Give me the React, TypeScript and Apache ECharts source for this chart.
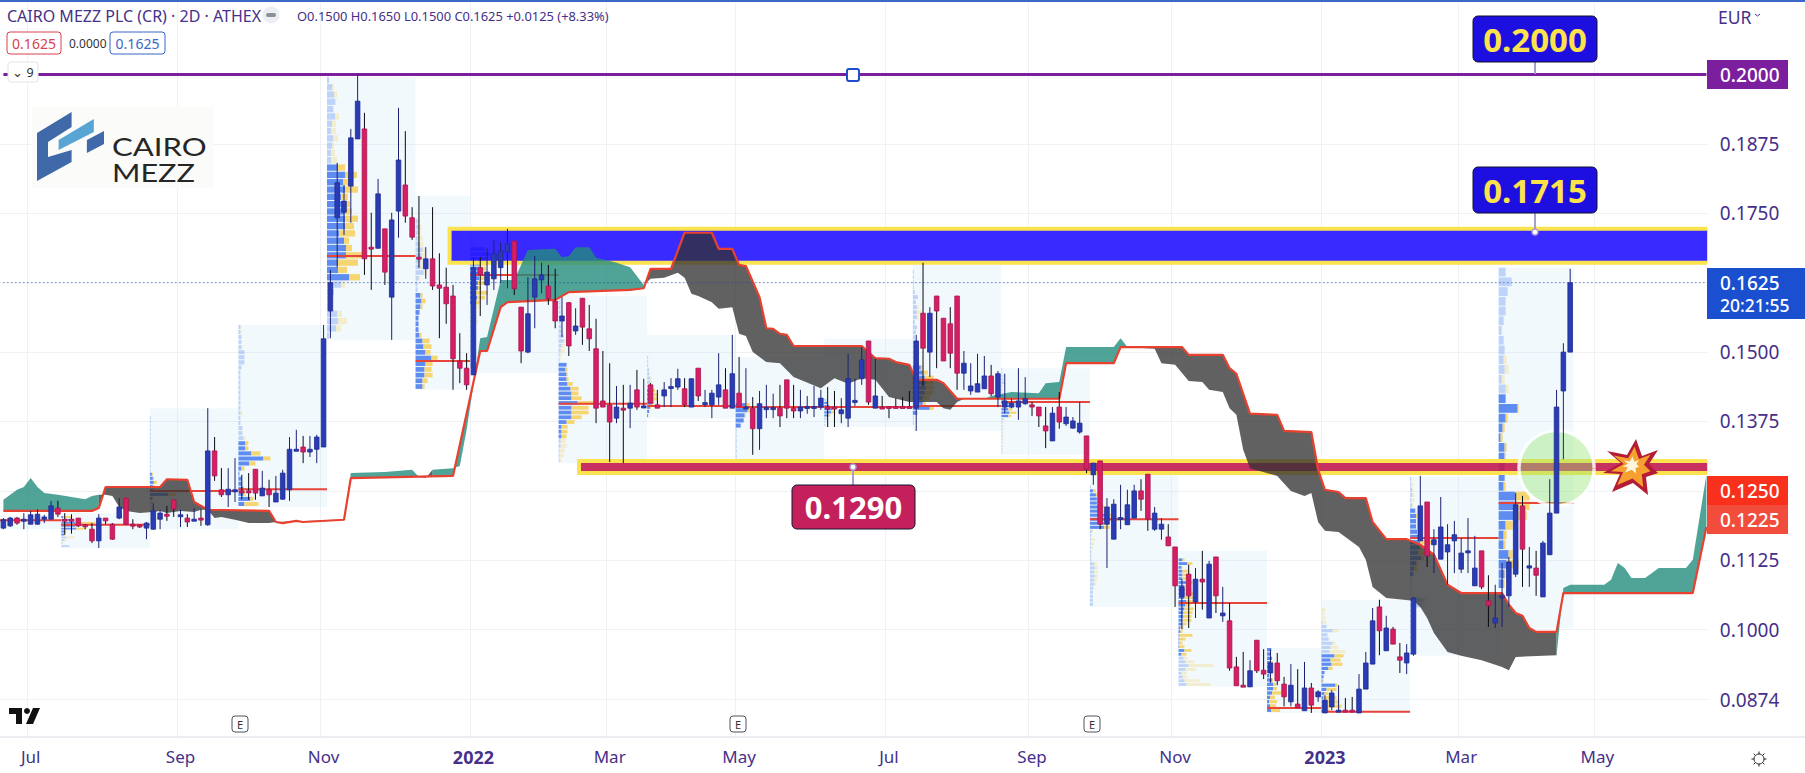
import React, { useEffect, useRef } from "react";
import * as echarts from "echarts";

// ---- price data: all prices in ten-thousandths of a euro ----
// [open, high, low, close] of every 2D bar
const candleTicks: number[][] = [
[1183,1201,1181,1198],[1187,1203,1185,1201],[1201,1203,1189,1192],[1198,1210,1181,1199],[1190,1214,1190,1207],[1190,1217,1189,1208],[1199,1207,1192,1203],[1199,1232,1199,1223],[1219,1232,1203,1208],[1199,1210,1171,1197],
[1199,1208,1173,1197],[1201,1201,1185,1187],[1189,1190,1181,1187],[1181,1192,1156,1160],[1160,1208,1147,1201],[1201,1201,1190,1196],[1190,1192,1162,1163],[1201,1237,1199,1221],[1237,1237,1189,1190],[1190,1199,1181,1189],
[1189,1189,1183,1185],[1183,1194,1163,1192],[1181,1228,1180,1214],[1199,1216,1181,1210],[1208,1223,1196,1205],[1234,1234,1203,1217],[1206,1216,1185,1207],[1201,1208,1185,1194],[1198,1219,1198,1199],[1201,1217,1187,1198],
[1189,1399,1187,1322],[1322,1347,1268,1277],[1252,1291,1239,1243],[1243,1291,1221,1253],[1251,1309,1230,1252],[1250,1279,1235,1249],[1250,1282,1234,1248],[1289,1289,1234,1246],[1241,1286,1241,1255],[1252,1270,1221,1243],
[1230,1277,1230,1246],[1235,1288,1234,1282],[1252,1347,1232,1325],[1324,1360,1324,1325],[1329,1349,1300,1320],[1320,1349,1311,1325],[1325,1351,1300,1347],[1329,1549,1329,1524],[1574,1648,1525,1625],[1742,1841,1653,1805],
[1752,1801,1711,1772],[1799,1902,1733,1886],[1884,2000,1884,1952],[1902,1931,1639,1668],[1689,1751,1612,1686],[1687,1812,1687,1785],[1722,1722,1621,1644],[1599,1751,1522,1738],[1754,1940,1706,1846],[1801,1898,1733,1745],
[1742,1761,1702,1707],[1671,1781,1652,1668],[1650,1689,1632,1668],[1668,1761,1612,1619],[1621,1678,1525,1615],[1617,1652,1551,1587],[1601,1621,1432,1488],[1484,1534,1444,1471],[1471,1498,1432,1441],[1459,1671,1459,1652],
[1652,1671,1565,1639],[1621,1687,1585,1644],[1632,1702,1612,1677],[1652,1698,1625,1682],[1680,1722,1615,1695],[1700,1700,1603,1614],[1581,1581,1480,1502],[1500,1635,1498,1569],[1599,1673,1543,1632],[1630,1661,1606,1639],
[1619,1657,1585,1596],[1592,1650,1543,1556],[1556,1599,1527,1565],[1589,1590,1493,1511],[1538,1579,1531,1547],[1597,1597,1513,1545],[1542,1585,1502,1524],[1506,1560,1372,1399],[1412,1502,1401,1401],[1405,1480,1302,1374],
[1381,1439,1372,1401],[1399,1441,1300,1396],[1399,1441,1363,1408],[1432,1468,1396,1401],[1402,1452,1399,1403],[1441,1444,1408,1408],[1405,1432,1399,1399],[1421,1446,1401,1432],[1437,1453,1401,1438],[1437,1470,1432,1452],
[1434,1453,1401,1405],[1401,1452,1401,1452],[1471,1471,1412,1421],[1408,1432,1401,1409],[1405,1432,1381,1426],[1419,1498,1405,1441],[1432,1471,1399,1399],[1399,1531,1399,1461],[1426,1491,1401,1401],[1400,1471,1399,1401],
[1399,1419,1315,1362],[1362,1430,1324,1407],[1399,1441,1381,1400],[1399,1425,1381,1400],[1399,1441,1365,1385],[1450,1450,1381,1399],[1399,1441,1381,1394],[1394,1432,1381,1401],[1401,1421,1389,1402],[1401,1439,1383,1402],
[1401,1432,1396,1417],[1401,1437,1365,1400],[1401,1430,1365,1400],[1389,1417,1372,1396],[1381,1497,1365,1452],[1412,1452,1403,1413],[1452,1509,1441,1486],[1520,1520,1405,1410],[1399,1488,1399,1421],[1401,1421,1399,1400],
[1402,1402,1381,1401],[1402,1417,1399,1401],[1402,1419,1399,1401],[1402,1430,1399,1401],[1399,1531,1358,1520],[1570,1661,1439,1507],[1500,1581,1455,1570],[1601,1601,1471,1574],[1561,1561,1484,1484],[1551,1581,1471,1498],
[1601,1601,1432,1462],[1462,1502,1432,1480],[1430,1480,1423,1439],[1428,1497,1428,1443],[1434,1493,1434,1457],[1457,1477,1421,1425],[1419,1466,1401,1461],[1401,1461,1390,1412],[1401,1416,1399,1408],[1401,1471,1378,1412],
[1407,1455,1405,1416],[1405,1410,1385,1401],[1401,1401,1365,1385],[1367,1401,1327,1358],[1340,1401,1340,1390],[1401,1428,1362,1374],[1371,1401,1367,1383],[1363,1383,1362,1376],[1356,1410,1353,1372],[1349,1349,1282,1289],
[1279,1300,1261,1300],[1304,1304,1181,1190],[1190,1237,1111,1221],[1163,1235,1163,1226],[1201,1261,1181,1202],[1189,1252,1189,1225],[1201,1261,1201,1250],[1250,1271,1214,1235],[1280,1280,1178,1199],[1181,1221,1178,1210],
[1181,1201,1162,1190],[1167,1190,1151,1151],[1149,1149,1041,1079],[1059,1091,1001,1077],[1100,1117,1003,1061],[1050,1111,1021,1091],[1091,1142,1036,1086],[1021,1124,1021,1118],[1131,1131,1030,1061],[1025,1077,1014,1030],
[1016,1048,926,931],[933,951,899,899],[900,960,897,897],[897,945,897,926],[981,981,922,926],[927,965,911,920],[922,964,904,940],[940,958,900,908],[902,915,862,879],[870,938,862,900],
[866,929,859,859],[854,942,854,895],[895,904,850,864],[879,891,870,888],[850,882,850,873],[861,891,855,886],[852,900,852,855],[855,877,854,854],[855,879,852,852],[850,920,850,893],
[893,960,893,940],[938,1039,938,1016],[1041,1054,954,998],[962,1025,962,1003],[1001,1005,974,974],[951,976,922,945],[940,974,920,958],[956,1059,953,1057],[1160,1277,1160,1223],[1230,1230,1113,1133],
[1153,1181,1102,1162],[1127,1239,1127,1185],[1140,1190,1081,1153],[1160,1196,1102,1171],[1109,1165,1102,1138],[1141,1201,1102,1142],[1079,1169,1079,1111],[1142,1142,1073,1077],[1052,1098,1005,1043],[1012,1081,1003,1021],
[1057,1120,1005,1061],[1061,1131,1041,1122],[1100,1246,1095,1225],[1223,1241,1077,1145],[1111,1149,1077,1115],[1111,1142,1061,1098],[1059,1160,1059,1156],[1135,1271,1135,1210],[1210,1432,1210,1401],[1430,1516,1307,1500],
[1500,1650,1500,1625]];

// Ichimoku leading spans as [bar, price] vertices
const senkouRed: number[][] = [[0,1214],[13,1214],[14,1219],[15,1257],[23,1257],[24,1271],[27,1270],[28,1230],[30,1216],[39,1214],[40,1194],[41,1192],[43,1196],[44,1194],[50,1198],[51,1273],[66,1277],[70,1502],[71,1502],[73,1581],[74,1590],[81,1594],[83,1608],[92,1612],[94,1615],[95,1650],[98,1650],[100,1715],[104,1715],[105,1686],[107,1686],[108,1657],[109,1655],[111,1599],[112,1543],[113,1542],[114,1533],[115,1531],[116,1511],[126,1511],[128,1489],[130,1488],[131,1482],[133,1477],[134,1450],[137,1450],[138,1444],[140,1416],[155,1416],[156,1480],[163,1480],[164,1509],[173,1509],[174,1495],[179,1495],[180,1471],[181,1461],[183,1389],[187,1387],[188,1358],[192,1356],[193,1288],[194,1252],[196,1248],[197,1237],[200,1237],[201,1194],[203,1163],[206,1163],[208,1153],[210,1135],[212,1081],[214,1066],[220,1066],[221,1045],[222,1030],[223,1025],[224,1003],[225,996],[228,996],[229,1066],[248,1066],[250,1185]];
const senkouOther: number[][] = [[0,1234],[2,1252],[3,1257],[4,1273],[5,1257],[6,1246],[8,1243],[10,1239],[12,1235],[13,1241],[14,1243],[15,1243],[16,1241],[17,1221],[18,1214],[20,1210],[22,1212],[23,1214],[24,1210],[26,1214],[28,1212],[29,1216],[30,1216],[31,1201],[32,1203],[34,1198],[36,1192],[39,1192],[40,1194],[50,1198],[51,1282],[56,1284],[60,1288],[61,1275],[62,1273],[63,1288],[66,1291],[67,1295],[68,1360],[69,1441],[70,1525],[71,1527],[73,1630],[75,1630],[77,1684],[81,1686],[82,1671],[83,1673],[84,1689],[86,1689],[87,1670],[90,1661],[92,1653],[94,1621],[95,1632],[97,1634],[99,1643],[100,1634],[101,1605],[102,1601],[104,1590],[105,1578],[107,1581],[108,1533],[109,1529],[110,1500],[112,1482],[114,1480],[116,1455],[120,1435],[122,1453],[124,1443],[126,1453],[128,1450],[130,1419],[133,1410],[137,1410],[138,1399],[139,1396],[140,1410],[141,1416],[144,1416],[145,1421],[148,1428],[152,1426],[153,1444],[155,1446],[156,1509],[163,1509],[164,1525],[165,1509],[169,1506],[170,1480],[172,1477],[174,1448],[176,1446],[177,1432],[179,1428],[180,1399],[181,1387],[182,1324],[183,1291],[187,1277],[189,1250],[191,1241],[192,1246],[193,1194],[194,1178],[196,1176],[198,1158],[199,1149],[200,1126],[201,1077],[203,1057],[207,1052],[208,1041],[209,1021],[210,994],[212,960],[214,953],[217,945],[220,933],[221,927],[222,951],[228,954],[229,1075],[230,1081],[235,1081],[236,1090],[237,1120],[238,1111],[239,1093],[241,1093],[243,1111],[247,1111],[248,1126],[250,1279]];
// runs of the cloud: [first bar, last bar, 0 = grey, 1 = teal]
const cloudRuns: number[][] = [[0,14,1],[14,50,0],[50,61,1],[61,63,0],[63,94,1],[94,144,0],[144,165,1],[165,228,0],[228,250,1]];

// Fixed-range volume profiles: [first bar, bar after the last, top, bottom, POC, value-area first row, value-area last row]
const profileRanges: number[][] = [
[0,9,1205,1181,1197,0,0],[9,22,1210,1147,1189,1,7],[22,35,1399,1181,1250,16,22],[35,48,1549,1221,1253,23,35],[48,61,1996,1522,1673,12,27],[61,69,1781,1432,1484,17,33],[69,82,1715,1462,1639,3,14],[82,95,1601,1300,1407,14,29],[95,108,1531,1381,1403,13,19],[108,121,1491,1307,1401,9,13],
[121,134,1524,1365,1401,20,24],[134,147,1657,1358,1403,20,29],[147,160,1471,1315,1410,9,14],[160,173,1304,1041,1199,7,16],[173,186,1142,897,1048,2,27],[186,194,967,850,859,0,14],[194,207,1054,850,852,13,26],[207,220,1275,953,1165,6,18],[220,231,1652,1003,1228,13,32]];
const profileUp: number[][] = [
[],
[0,2,13,14,14,15,3,3,5,3,1,8],
[0,0,1,1,1,1,1,1,1,1,1,1,1,1,1,1,2,3,4,3,3,18,2,2,2,2,1,1,1,0],
[2,2,3,3,3,6,6,6,3,2,2,2,2,2,2,2,2,2,2,2,4,4,5,7,7,13,25,11,3,1,3,3,5,5,12,6],
[2,5,7,8,6,8,5,4,6,5,4,4,11,18,16,18,14,15,18,18,18,12,17,19,19,11,11,22,14,7,5,5,10,11,9,2],
[0,0,0,0,2,3,2,2,4,7,6,5,5,8,3,2,2,5,6,5,4,3,3,3,4,7,8,10,16,10,9,9,7,7],
[1,3,5,15,20,17,10,10,10,9,8,8,6,7,6,5,3,3,3,2,2,2,1,1,1,1,1,1,0],
[2,2,2,2,2,2,3,3,5,5,3,2,1,1,8,7,8,8,9,12,13,13,19,13,13,13,8,3,3,3,2,2,1,1,1],
[0,0,0,0,0,1,1,1,2,2,3,3,4,5,6,6,5,3,2,1],
[0,0,0,0,0,0,0,0,0,10,12,9,8,5,1,1,1,1,1,1],
[0,0,0,0,0,0,0,0,0,0,0,0,0,0,0,0,0,0,0,2,3,5,8,7,4,2,1,1],
[0,1,1,1,1,2,5,3,4,4,4,2,4,3,2,2,2,2,3,4,8,10,12,13,13,12,10,10,17,4,1,1,0],
[1,1,2,2,3,1,1,1,2,4,8,9,7,8,7,2,1,1,1,1,1,1,1,1,1,1],
[0,0,0,0,0,0,1,3,6,7,7,10,12,18,20,14,14,2,1,1,1,1,1,1,1,4,5,4,5,4,4,3,3,3,3,3],
[0,0,4,9,3,4,4,4,8,6,5,6,6,8,7,6,5,5,4,4,2,2,1,1,1,1,6,3,5,7,10,7,3,4,6,8],
[4,4,5,4,5,5,2,5,6,6,5,3,2,3,4],
[0,0,0,0,0,1,5,11,6,7,11,9,8,13,9,10,7,3,2,1,14,5,3,2,3,3,3],
[1,1,2,2,1,2,5,6,6,6,7,8,10,10,8,11,6,4,3,1,1,1,1,14,12,1,1,1,1,1,1,1,1,1],
[7,13,9,7,7,5,3,5,6,5,6,3,7,7,19,7,4,2,6,6,6,6,5,17,17,18,7,5,5,10,8,6,5,0,0,0,0]];
const profileDown: number[][] = [
[],
[0,8,1,20,3,10,2,1,8,2,1,0],
[0,0,0,0,0,0,0,0,0,0,0,0,0,0,0,0,1,1,3,2,2,8,2,1,1,1,1,10,2,0],
[1,1,0,0,1,0,0,0,0,0,0,0,0,0,0,0,0,2,0,0,0,0,2,3,3,9,7,6,3,0,0,0,0,2,3,14],
[0,2,3,1,1,4,4,5,5,2,4,6,7,12,6,13,7,8,7,13,9,16,5,6,17,20,9,11,4,0,0,0,5,9,5,0],
[0,0,0,0,2,3,3,5,4,3,4,3,3,4,2,0,0,2,4,2,0,0,0,0,2,7,8,5,6,7,7,8,5,2],
[0,0,0,0,3,5,7,6,7,7,8,3,12,8,4,4,4,4,5,3,2,1,0,0,0,0,0,0,0],
[0,0,0,0,0,0,0,0,0,3,3,4,2,1,0,2,1,2,5,8,7,10,16,17,17,10,8,6,6,5,5,6,5,4,2],
[0,0,0,0,0,0,0,0,0,1,1,2,2,3,4,4,2,1,0,0],
[0,0,0,0,0,0,0,0,0,4,4,1,0,0,0,0,0,0,0,0],
[0,0,0,0,0,0,0,0,0,0,0,0,0,0,0,0,0,0,0,0,1,1,3,4,2,0,0,0],
[0,0,0,0,0,0,0,0,2,5,2,0,0,0,0,0,0,0,0,1,2,5,9,8,8,8,7,3,4,1,0,0,0],
[0,0,0,0,0,0,0,0,1,1,2,2,4,7,3,1,1,1,1,1,1,1,1,0,0,0],
[0,0,0,0,0,0,0,3,6,1,3,5,5,4,10,5,6,1,1,4,3,2,1,1,1,3,3,4,3,3,2,1,0,0,0,0],
[0,0,2,5,1,6,7,5,6,6,8,9,11,10,5,9,9,8,9,4,3,2,13,6,3,5,7,5,4,9,25,10,5,5,15,24],
[1,0,0,2,1,0,1,1,3,4,9,5,8,6,9],
[0,0,4,3,4,4,0,6,0,1,3,8,16,9,10,11,4,0,0,1,2,10,4,13,15,17,5],
[1,2,1,2,3,1,1,1,0,0,0,1,14,8,10,3,2,3,1,1,0,0,0,3,2,0,0,0,0,0,0,0,0,0],
[0,0,0,0,0,0,0,0,0,3,4,3,3,0,1,2,2,2,2,1,0,0,2,14,14,10,7,3,2,4,12,1,1,0,0,0,0]];

// Supply / demand zones: [first bar, last bar, top, bottom]
const zoneBlue = [66, 250, 1722, 1661];
const zoneRed = [85, 250, 1304, 1282];
const resistance = 0.2;
const lastPrice = 0.1625;
const breakoutSpot = [228, 0.1291];

const priceTicks = [0.2, 0.1875, 0.175, 0.1625, 0.15, 0.1375, 0.125, 0.1125, 0.1, 0.0874];
const timeTicks: [number, string][] = [[4,"Jul"],[26,"Sep"],[47,"Nov"],[69,"2022"],[89,"Mar"],[108,"May"],[130,"Jul"],[151,"Sep"],[172,"Nov"],[194,"2023"],[214,"Mar"],[234,"May"]];
const earningsMarks = [240, 738, 1092];
const legendLine = "O0.1500 H0.1650 L0.1500 C0.1625 +0.0125 (+8.33%)";

const BAR_COUNT = 251;
const INK = "#46308a";
const FONT = "'Noto Sans', sans-serif";
const tick = (v: number) => v / 10000;

const labelByBar = new Map(timeTicks);
const categories = Array.from({ length: BAR_COUNT }, (_, i) => labelByBar.get(i) ?? "");
const isTimeTick = (i: number) => labelByBar.has(i);

function valueAt(arr: number[][], x: number) {
  for (let k = 0; k < arr.length - 1; k++) {
    const [x0, y0] = arr[k];
    const [x1, y1] = arr[k + 1];
    if (x >= x0 && x <= x1) return y0 + ((y1 - y0) * (x - x0)) / (x1 - x0 || 1);
  }
  return arr[arr.length - 1][1];
}
function edge(arr: number[][], a: number, b: number) {
  return [[a, valueAt(arr, a)], ...arr.filter((p) => p[0] > a && p[0] < b), [b, valueAt(arr, b)]];
}

const starPoints = [[1636,439],[1642,456],[1658,450],[1649,464],[1658,473],[1646,477],[1648,495],[1633,483],[1612,492],[1620,474],[1603,473],[1621,463],[1607,451],[1627,455]];
const starScaled = (k: number, dy = 0) => starPoints.map(([x, y]) => [1631 + (x - 1631) * k, 467 + dy + (y - 467) * k]);

function tagBox(y0: number, h: number, w: number, fill: string, label: string, extra?: string): any[] {
  const out: any[] = [
    { type: "rect", z: 100, shape: { x: 1707, y: y0, width: w, height: h }, style: { fill } },
    { type: "text", z: 101, x: 1720, y: y0 + (extra ? 15 : h / 2), style: { text: label, fill: "#fff", font: `500 19px ${FONT}`, textVerticalAlign: "middle" } },
  ];
  if (extra) out.push({ type: "text", z: 101, x: 1720, y: y0 + 37, style: { text: extra, fill: "#fff", font: `500 17.5px ${FONT}`, textVerticalAlign: "middle" } });
  return out;
}
function callout(x: number, y: number, w: number, h: number, fill: string, textFill: string, label: string, size: number): any[] {
  return [
    { type: "rect", z: 100, shape: { x, y, width: w, height: h, r: 5 }, style: { fill, stroke: "#14122e", lineWidth: 1 } },
    { type: "text", z: 101, x: x + w / 2, y: y + h / 2, style: { text: label, fill: textFill, font: `700 ${size}px ${FONT}`, textAlign: "center", textVerticalAlign: "middle" } },
  ];
}
function stem(x: number, y0: number, y1: number, ring: boolean): any[] {
  const out: any[] = [{ type: "line", z: 99, shape: { x1: x, y1: y0, x2: x, y2: y1 }, style: { stroke: "#a89cd0", lineWidth: 2 } }];
  if (ring) out.push({ type: "circle", z: 99, shape: { cx: x, cy: y1, r: 3 }, style: { fill: "#fff", stroke: "#a89cd0", lineWidth: 1.5 } });
  return out;
}
function boxed(x: number, y: number, w: number, h: number, stroke: string, fill: string, label: string, font: string): any[] {
  return [
    { type: "rect", z: 100, shape: { x, y, width: w, height: h, r: 3 }, style: { fill: "#fff", stroke, lineWidth: 1 } },
    { type: "text", z: 101, x: x + w / 2, y: y + h / 2, style: { text: label, fill, font, textAlign: "center", textVerticalAlign: "middle" } },
  ];
}

function buildGraphics(): any[] {
  const g: any[] = [];
  // frame
  g.push({ type: "rect", z: 90, shape: { x: 1707.5, y: 3, width: 11, height: 734 }, style: { fill: "#ffffff" } });
  g.push({ type: "rect", z: 98, shape: { x: 0, y: 0, width: 1805, height: 2 }, style: { fill: "#3a67c8" } });
  g.push({ type: "line", z: 98, shape: { x1: 0, y1: 737, x2: 1805, y2: 737 }, style: { stroke: "#d9dce3", lineWidth: 1 } });
  // legend
  g.push({ type: "text", z: 101, x: 7, y: 16, style: { text: "CAIRO MEZZ PLC (CR) · 2D · ATHEX", fill: INK, font: `16px ${FONT}`, textVerticalAlign: "middle" } });
  g.push({ type: "circle", z: 100, shape: { cx: 271, cy: 15, r: 8.5 }, style: { fill: "#eceef1" } });
  g.push({ type: "rect", z: 101, shape: { x: 266, y: 13, width: 10, height: 4, r: 2 }, style: { fill: "#8a8f98" } });
  g.push({ type: "text", z: 101, x: 297, y: 16, style: { text: legendLine, fill: INK, font: `12.9px ${FONT}`, textVerticalAlign: "middle" } });
  g.push(...boxed(7, 32, 54, 22, "#d8404e", "#d8404e", "0.1625", `14px ${FONT}`));
  g.push({ type: "text", z: 101, x: 69, y: 43, style: { text: "0.0000", fill: "#333", font: `12px ${FONT}`, textVerticalAlign: "middle" } });
  g.push(...boxed(110, 32, 55, 22, "#3a67c8", "#3a67c8", "0.1625", `14px ${FONT}`));
  g.push(...boxed(8, 62, 30, 20, "#e0e3e8", "#333", "⌄ 9", `12.5px ${FONT}`));
  g.push({ type: "text", z: 101, x: 1718, y: 17, style: { text: "EUR", fill: INK, font: `17.5px ${FONT}`, textVerticalAlign: "middle" } });
  g.push({ type: "polyline", z: 101, shape: { points: [[1755, 14], [1757.5, 16], [1760, 14]] }, style: { stroke: INK, fill: "none", lineWidth: 1 } });
  // company logo
  g.push({ type: "rect", z: 96, shape: { x: 32, y: 107, width: 182, height: 81 }, style: { fill: "#fbfbfa" } });
  g.push({ type: "polygon", z: 97, shape: { points: [[37,133],[71.6,112],[71.6,127],[48,142],[48,157],[71.6,150],[71.6,162],[37,181]] }, style: { fill: "#3f69a8" } });
  g.push({ type: "polygon", z: 97, shape: { points: [[58.6,140],[93.8,119],[93.8,132],[58.6,150]] }, style: { fill: "#58a4d2" } });
  g.push({ type: "polygon", z: 97, shape: { points: [[86.9,140],[104,131],[104,144],[86.9,153]] }, style: { fill: "#3f69a8" } });
  g.push({ type: "text", z: 97, x: 112, y: 146, scaleX: 1.22, style: { text: "CAIRO", fill: "#262626", font: `25.5px Lato, ${FONT}`, textVerticalAlign: "middle" } });
  g.push({ type: "text", z: 97, x: 112, y: 172, scaleX: 1.2, style: { text: "MEZZ", fill: "#262626", font: `25.5px Lato, ${FONT}`, textVerticalAlign: "middle" } });
  // TradingView mark
  g.push({ type: "polygon", z: 100, shape: { points: [[9,708],[22,708],[22,724],[16,724],[16,714],[9,714]] }, style: { fill: "#111" } });
  g.push({ type: "circle", z: 100, shape: { cx: 27, cy: 711, r: 3 }, style: { fill: "#111" } });
  g.push({ type: "polygon", z: 100, shape: { points: [[33,708],[40,708],[33,724],[26,724]] }, style: { fill: "#111" } });
  // earnings marks
  earningsMarks.forEach((x) => g.push(...boxed(x - 8, 716, 16, 16, "#50535e", "#333", "E", `11px ${FONT}`)));
  // settings gear
  g.push({ type: "circle", z: 100, shape: { cx: 1759, cy: 759, r: 5 }, style: { fill: "none", stroke: "#222", lineWidth: 1 } });
  for (let k = 0; k < 8; k++) {
    const a = (k * Math.PI) / 4;
    g.push({ type: "line", z: 100, shape: { x1: 1759 + 5 * Math.cos(a), y1: 759 + 5 * Math.sin(a), x2: 1759 + 7.5 * Math.cos(a), y2: 759 + 7.5 * Math.sin(a) }, style: { stroke: "#222", lineWidth: 1 } });
  }
  // right price tags
  g.push(...tagBox(60, 29, 81, "#7b1f9e", "0.2000"));
  g.push(...tagBox(268, 51, 98, "#1a4fcf", "0.1625", "20:21:55"));
  g.push(...tagBox(476, 29, 81, "#f8301c", "0.1250"));
  g.push(...tagBox(505, 29, 81, "#f24c3d", "0.1225"));
  // callouts
  g.push(...stem(1535, 62, 74, false));
  g.push(...callout(1473, 16, 124, 46, "#1c0fe0", "#fde24b", "0.2000", 33));
  g.push(...stem(1535, 213, 232, true));
  g.push(...callout(1473, 167, 124, 46, "#1c0fe0", "#fde24b", "0.1715", 33));
  g.push(...stem(853, 485, 467, true));
  g.push(...callout(792, 485, 123, 44, "#c4215c", "#ffffff", "0.1290", 31));
  g.push({ type: "rect", z: 100, shape: { x: 847, y: 69, width: 12, height: 12, r: 2 }, style: { fill: "#fff", stroke: "#1f4fc8", lineWidth: 2 } });
  // burst sticker
  g.push({ type: "polygon", z: 100, shape: { points: starScaled(1) }, style: { fill: "#b51d36" } });
  g.push({ type: "polygon", z: 100, shape: { points: starScaled(0.72) }, style: { fill: "#f5a02f" } });
  g.push({ type: "polygon", z: 100, shape: { points: starScaled(0.3, -2) }, style: { fill: "#fff6df" } });
  return g;
}

function buildOption(): any {
  const candleData = candleTicks.map((c, i) => [i, tick(c[0]), tick(c[1]), tick(c[2]), tick(c[3])]);

  const renderCandle = (_: any, api: any) => {
    const i = api.value(0);
    const o = api.value(1), h = api.value(2), l = api.value(3), c = api.value(4);
    const up = c >= o;
    const x = api.coord([i, o])[0];
    const yH = api.coord([i, h])[1], yL = api.coord([i, l])[1];
    const yT = api.coord([i, Math.max(o, c)])[1];
    const yB = api.coord([i, Math.min(o, c)])[1];
    const hgt = Math.max(yB - yT, 2);
    return {
      type: "group",
      children: [
        { type: "line", shape: { x1: x, y1: yH, x2: x, y2: yL }, style: { stroke: up ? "#1d2070" : "#0b0b12", lineWidth: 1 } },
        { type: "rect", shape: { x: x - 2.3, y: yT, width: 4.6, height: hgt }, style: { fill: up ? "#2a3cb4" : "#d61e62", stroke: up ? "#1f2c90" : "#a81550", lineWidth: 0.8 } },
      ],
    };
  };

  const bandLeft = (api: any, bar: number, price: number) => api.coord([bar, price])[0] - api.size([1, 0])[0] / 2;

  const renderProfileBg = (p: any, api: any) => {
    const r = profileRanges[p.dataIndex];
    const x0 = bandLeft(api, r[0], tick(r[2]));
    const x1 = bandLeft(api, r[1], tick(r[2]));
    const y0 = api.coord([r[0], tick(r[2])])[1];
    const y1 = api.coord([r[0], tick(r[3])])[1];
    return { type: "rect", shape: { x: x0, y: y0, width: x1 - x0, height: y1 - y0 }, style: { fill: "rgba(196,228,248,0.24)" } };
  };
  const renderProfileRows = (p: any, api: any) => {
    const idx = p.dataIndex;
    const r = profileRanges[idx];
    const up = profileUp[idx], down = profileDown[idx];
    const x0 = bandLeft(api, r[0], tick(r[2]));
    const x1 = bandLeft(api, r[1], tick(r[2]));
    const y0 = api.coord([r[0], tick(r[2])])[1];
    const y1 = api.coord([r[0], tick(r[3])])[1];
    const pitch = up.length ? (y1 - y0) / up.length : 0;
    const children: any[] = [];
    up.forEach((u, k) => {
      const inVa = k >= r[5] && k <= r[6];
      const y = y0 + k * pitch;
      const h = Math.max(pitch - 1, 1);
      if (u > 0) children.push({ type: "rect", shape: { x: x0, y, width: u, height: h }, style: { fill: inVa ? "#5f8cf0" : "rgba(95,140,240,0.35)" } });
      if (down[k] > 0) children.push({ type: "rect", shape: { x: x0 + u, y, width: down[k], height: h }, style: { fill: inVa ? "#f6d573" : "rgba(246,213,115,0.35)" } });
    });
    const yp = api.coord([r[0], tick(r[4])])[1];
    children.push({ type: "rect", shape: { x: x0, y: yp - 1, width: x1 - x0, height: 2 }, style: { fill: "#e8453a" } });
    return { type: "group", children };
  };

  const renderZone = (p: any, api: any) => {
    const z = p.dataIndex === 0 ? zoneBlue : zoneRed;
    const x0 = bandLeft(api, z[0], tick(z[2]));
    const x1 = api.coord([z[1], tick(z[2])])[0] + 1;
    const y0 = api.coord([z[0], tick(z[2])])[1];
    const y1 = api.coord([z[0], tick(z[3])])[1];
    const edgeStyle = { stroke: "#fbe24f", lineWidth: 4 };
    return {
      type: "group",
      children: [
        { type: "rect", shape: { x: x0, y: y0, width: x1 - x0, height: y1 - y0 }, style: { fill: p.dataIndex === 0 ? "rgba(36,19,255,0.9)" : "rgba(194,25,80,0.9)" } },
        { type: "line", shape: { x1: x0 - 2, y1: y0, x2: x1, y2: y0 }, style: edgeStyle },
        { type: "line", shape: { x1: x0 - 2, y1: y1, x2: x1, y2: y1 }, style: edgeStyle },
        { type: "line", shape: { x1: x0, y1: y0, x2: x0, y2: y1 }, style: edgeStyle },
      ],
    };
  };

  const renderSpot = (_: any, api: any) => {
    const [cx, cy] = api.coord([api.value(0), api.value(1)]);
    return {
      type: "group",
      children: [
        { type: "circle", shape: { cx, cy, r: 37.5 }, style: { fill: "rgba(0,0,0,0)", stroke: "rgba(255,255,255,0.85)", lineWidth: 3.5 } },
        { type: "circle", shape: { cx, cy, r: 36 }, style: { fill: "rgba(150,230,120,0.42)" } },
      ],
    };
  };

  const renderCloud = (p: any, api: any) => {
    const run = cloudRuns[p.dataIndex];
    const top = edge(senkouOther, run[0], run[1]);
    const bottom = edge(senkouRed, run[0], run[1]).reverse();
    const points = [...top, ...bottom].map((q) => api.coord([q[0], tick(q[1])]));
    return { type: "polygon", shape: { points }, style: { fill: run[2] ? "rgba(35,140,125,0.8)" : "rgba(50,50,50,0.77)" } };
  };

  return {
    animation: false,
    backgroundColor: "#ffffff",
    grid: { left: -2, top: 3, width: 251 * 6.82, height: 734, containLabel: false },
    xAxis: {
      type: "category",
      data: categories,
      boundaryGap: true,
      axisLine: { show: false },
      axisTick: { show: false, alignWithLabel: true, interval: (i: number) => isTimeTick(i) },
      axisLabel: {
        interval: (i: number) => isTimeTick(i),
        color: INK,
        fontFamily: "Noto Sans",
        fontSize: 17,
        margin: 11,
        hideOverlap: false,
        formatter: (v: string) => (/^20/.test(v) ? `{b|${v}}` : v),
        rich: { b: { fontWeight: 700, fontSize: 18, color: INK, fontFamily: "Noto Sans" } },
      },
      splitLine: { show: true, interval: (i: number) => isTimeTick(i), lineStyle: { color: "#eff1f4", width: 1 } },
    },
    yAxis: {
      type: "value",
      position: "right",
      min: 0.08067,
      max: 0.21288,
      axisLine: { show: false },
      axisTick: { show: false, customValues: priceTicks },
      axisLabel: { customValues: priceTicks, margin: 10, color: INK, fontFamily: "Noto Sans", fontSize: 19, formatter: (v: number) => v.toFixed(4) },
      splitLine: { show: true, lineStyle: { color: "#eff1f4", width: 1 } },
    },
    graphic: { elements: buildGraphics() },
    series: [
      { name: "profile ranges", type: "custom", z: 1, silent: true, data: profileRanges.map((r) => [r[0], tick(r[2])]), renderItem: renderProfileBg },
      { name: "volume profile", type: "custom", z: 2, silent: true, data: profileRanges.map((r) => [r[0], tick(r[2])]), renderItem: renderProfileRows },
      { name: "zones", type: "custom", z: 3, silent: true, data: [[zoneBlue[0], tick(zoneBlue[2])], [zoneRed[0], tick(zoneRed[2])]], renderItem: renderZone },
      { name: "breakout", type: "custom", z: 4, silent: true, data: [breakoutSpot], renderItem: renderSpot },
      { name: "cloud", type: "custom", z: 5, silent: true, data: cloudRuns.map((r) => [r[0], 0.15]), renderItem: renderCloud },
      { name: "Senkou span", type: "line", z: 6, silent: true, showSymbol: false, data: senkouRed.map((p) => [p[0], tick(p[1])]), lineStyle: { color: "#e8412f", width: 2.2 } },
      { name: "resistance", type: "line", z: 6, silent: true, showSymbol: false, data: [[0, resistance], [250, resistance]], lineStyle: { color: "#7b1f9e", width: 3 } },
      { name: "last price", type: "line", z: 6, silent: true, showSymbol: false, data: [[0, lastPrice], [250, lastPrice]], lineStyle: { color: "#1a4fa8", width: 1, type: [1, 3] } },
      { name: "price", type: "custom", z: 7, silent: true, data: candleData, encode: { x: 0, y: [1, 2, 3, 4] }, renderItem: renderCandle },
    ],
  };
}

export default function App() {
  const ref = useRef<HTMLDivElement>(null);
  useEffect(() => {
    document.body.style.margin = "0";
    document.body.style.background = "#fff";
    const chart = echarts.init(ref.current!, undefined, { renderer: "svg" });
    chart.setOption(buildOption());
    return () => chart.dispose();
  }, []);
  return <div ref={ref} style={{ width: 1805, height: 773 }} />;
}
